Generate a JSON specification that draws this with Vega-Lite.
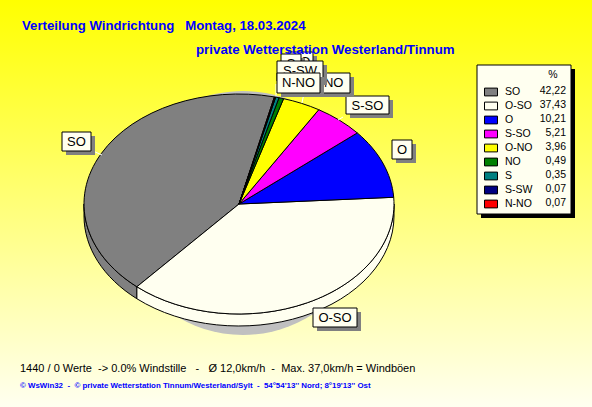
{"$schema":"https://vega.github.io/schema/vega-lite/v6.json","width":592,"height":407,"padding":0,"autosize":{"type":"fit","contains":"padding"},"background":"#ffffff",
"config":{"view":{"stroke":null},"axis":{"disable":true},"locale":{"number":{"decimal":",","thousands":".","grouping":[3],"currency":["","€"]}},"text":{"font":"Liberation Sans"},
"point":{"filled":true,"opacity":1,"size":4}},
"data":{"values":[{"dir":"SO","pct":42.22},{"dir":"O-SO","pct":37.43},{"dir":"O","pct":10.21},{"dir":"S-SO","pct":5.21},{"dir":"O-NO","pct":3.96},{"dir":"NO","pct":0.49},{"dir":"S","pct":0.35},{"dir":"S-SW","pct":0.07},{"dir":"N-NO","pct":0.07}]},
"resolve":{"scale":{"shape":"independent"},"legend":{"shape":"independent"}},
"encoding":{"x":{"datum":239,"scale":{"domain":[0,592],"range":[0,592],"nice":false,"zero":false}},"y":{"datum":204,"scale":{"domain":[0,407],"range":[0,407],"nice":false,"zero":false}}},
"layer":[
{"data":{"values":[{"part":"background"}]},"mark":{"type":"rect","fill":{"gradient":"linear","x1":0,"y1":0,"x2":0,"y2":1,"stops":[{"offset":0,"color":"#ffff00"},{"offset":1,"color":"#fffff0"}]}},"encoding":{"x":{"datum":0},"x2":{"datum":592},"y":{"datum":0},"y2":{"datum":407}}},
{"data":{"values":[{"part":"shadow"}]},"mark":{"type":"point","shape":"M-125,0A125,122 0 1 1 125,0A125,122 0 1 1 -125,0Z","fill":"#c0c0c0","stroke":null},"encoding":{"x":{"datum":243},"y":{"datum":213}}},
{"transform":[{"filter":"datum.dir=='SO'"}],"mark":{"type":"point","shape":"M-102.1,82.76L-102.1,94.76A155,110 0 0 1 -155,12L-155,0A155,110 0 0 0 -102.1,82.76Z","stroke":"#000000","strokeWidth":1},"encoding":{"fill":{"field":"dir","type":"nominal"}}},
{"transform":[{"filter":"datum.dir=='O-SO'"}],"mark":{"type":"point","shape":"M155,0L155,12A155,110 0 0 1 -102.1,94.76L-102.1,82.76A155,110 0 0 0 155,0Z","stroke":"#000000","strokeWidth":1},"encoding":{"fill":{"field":"dir","type":"nominal"}}},
{"mark":{"type":"point","stroke":"#000000","strokeWidth":1},"encoding":{
"fill":{"field":"dir","type":"nominal","sort":null,"scale":{"domain":["SO","O-SO","O","S-SO","O-NO","NO","S","S-SW","N-NO"],"range":["#808080","#fffff0","#0000ff","#ff00ff","#ffff00","#008000","#008080","#000080","#ff0000"]},
"legend":{"orient":"none","legendX":484,"legendY":85,"title":null,"symbolType":"M-1,-0.6L1,-0.6L1,0.6L-1,0.6Z","symbolSize":169,"symbolStrokeColor":"#000000","symbolStrokeWidth":1,"labelFont":"Liberation Sans","labelFontSize":10.5,"labelColor":"#000000","labelOffset":7,"clipHeight":14,"rowPadding":0,"padding":0,"offset":0}},
"shape":{"field":"dir","type":"nominal","legend":null,"scale":{"domain":["SO","O-SO","O","S-SO","O-NO","NO","S","S-SW","N-NO"],"range":[
"M0,0L-102.1,82.76A155,110 0 0 1 35.37,-107.1Z",
"M0,0L154.71,-6.73A155,110 0 0 1 -102.1,82.76Z",
"M0,0L118.28,-71.09A155,110 0 0 1 154.71,-6.73Z",
"M0,0L79.76,-94.31A155,110 0 0 1 118.28,-71.09Z",
"M0,0L44.59,-105.35A155,110 0 0 1 79.76,-94.31Z",
"M0,0L39.99,-106.27A155,110 0 0 1 44.59,-105.35Z",
"M0,0L36.69,-106.87A155,110 0 0 1 39.99,-106.27Z",
"M0,0L36.03,-106.99A155,110 0 0 1 36.69,-106.87Z",
"M0,0L35.37,-107.1A155,110 0 0 1 36.03,-106.99Z"]}}}},
{"data":{"values":[{"part":"leaders"}]},"mark":{"type":"point","filled":false,"stroke":"#ffffff","strokeWidth":1,"shape":"M-146,-53L-137,-49M104,-87L99,-84M65,-111L63,-101M37,-108L37,-120"}},
{"transform":[{"filter":"datum.dir=='SO'"}],"mark":{"type":"point","fill":"#808080","stroke":null,"xOffset":4,"yOffset":4,"shape":"M-177,-72H-148V-53H-177Z"}},
{"transform":[{"filter":"datum.dir=='SO'"}],"mark":{"type":"point","fill":"#fffff0","stroke":"#000000","strokeWidth":1,"shape":"M-177,-72H-148V-53H-177Z"}},
{"transform":[{"filter":"datum.dir=='SO'"}],"mark":{"type":"text","fontSize":13},"encoding":{"text":{"field":"dir"},"x":{"datum":76.5},"y":{"datum":142}}},
{"transform":[{"filter":"datum.dir=='O-SO'"}],"mark":{"type":"point","fill":"#808080","stroke":null,"xOffset":4,"yOffset":4,"shape":"M74,104H118V123H74Z"}},
{"transform":[{"filter":"datum.dir=='O-SO'"}],"mark":{"type":"point","fill":"#fffff0","stroke":"#000000","strokeWidth":1,"shape":"M74,104H118V123H74Z"}},
{"transform":[{"filter":"datum.dir=='O-SO'"}],"mark":{"type":"text","fontSize":13},"encoding":{"text":{"field":"dir"},"x":{"datum":335},"y":{"datum":318}}},
{"transform":[{"filter":"datum.dir=='O'"}],"mark":{"type":"point","fill":"#808080","stroke":null,"xOffset":4,"yOffset":4,"shape":"M153,-64H173V-45H153Z"}},
{"transform":[{"filter":"datum.dir=='O'"}],"mark":{"type":"point","fill":"#fffff0","stroke":"#000000","strokeWidth":1,"shape":"M153,-64H173V-45H153Z"}},
{"transform":[{"filter":"datum.dir=='O'"}],"mark":{"type":"text","fontSize":13},"encoding":{"text":{"field":"dir"},"x":{"datum":402},"y":{"datum":150}}},
{"transform":[{"filter":"datum.dir=='S-SO'"}],"mark":{"type":"point","fill":"#808080","stroke":null,"xOffset":4,"yOffset":4,"shape":"M107,-108H150V-90H107Z"}},
{"transform":[{"filter":"datum.dir=='S-SO'"}],"mark":{"type":"point","fill":"#fffff0","stroke":"#000000","strokeWidth":1,"shape":"M107,-108H150V-90H107Z"}},
{"transform":[{"filter":"datum.dir=='S-SO'"}],"mark":{"type":"text","fontSize":13},"encoding":{"text":{"field":"dir"},"x":{"datum":367.5},"y":{"datum":105.5}}},
{"transform":[{"filter":"datum.dir=='O-NO'"}],"mark":{"type":"point","fill":"#808080","stroke":null,"xOffset":4,"yOffset":4,"shape":"M64,-131H111V-111H64Z"}},
{"transform":[{"filter":"datum.dir=='O-NO'"}],"mark":{"type":"point","fill":"#fffff0","stroke":"#000000","strokeWidth":1,"shape":"M64,-131H111V-111H64Z"}},
{"transform":[{"filter":"datum.dir=='O-NO'"}],"mark":{"type":"text","fontSize":13},"encoding":{"text":{"field":"dir"},"x":{"datum":326.5},"y":{"datum":83}}},
{"transform":[{"filter":"datum.dir=='NO'"}],"mark":{"type":"point","fill":"#808080","stroke":null,"xOffset":4,"yOffset":4,"shape":"M49,-152H74V-132H49Z"}},
{"transform":[{"filter":"datum.dir=='NO'"}],"mark":{"type":"point","fill":"#fffff0","stroke":"#000000","strokeWidth":1,"shape":"M49,-152H74V-132H49Z"}},
{"transform":[{"filter":"datum.dir=='NO'"}],"mark":{"type":"text","fontSize":13},"encoding":{"text":{"field":"dir"},"x":{"datum":300.5},"y":{"datum":62}}},
{"transform":[{"filter":"datum.dir=='S'"}],"mark":{"type":"point","fill":"#808080","stroke":null,"xOffset":4,"yOffset":4,"shape":"M42,-150H62V-130H42Z"}},
{"transform":[{"filter":"datum.dir=='S'"}],"mark":{"type":"point","fill":"#fffff0","stroke":"#000000","strokeWidth":1,"shape":"M42,-150H62V-130H42Z"}},
{"transform":[{"filter":"datum.dir=='S'"}],"mark":{"type":"text","fontSize":13},"encoding":{"text":{"field":"dir"},"x":{"datum":291},"y":{"datum":64}}},
{"transform":[{"filter":"datum.dir=='S-SW'"}],"mark":{"type":"point","fill":"#808080","stroke":null,"xOffset":4,"yOffset":4,"shape":"M38,-143H84V-123H38Z"}},
{"transform":[{"filter":"datum.dir=='S-SW'"}],"mark":{"type":"point","fill":"#fffff0","stroke":"#000000","strokeWidth":1,"shape":"M38,-143H84V-123H38Z"}},
{"transform":[{"filter":"datum.dir=='S-SW'"}],"mark":{"type":"text","fontSize":13},"encoding":{"text":{"field":"dir"},"x":{"datum":300},"y":{"datum":71}}},
{"transform":[{"filter":"datum.dir=='N-NO'"}],"mark":{"type":"point","fill":"#808080","stroke":null,"xOffset":4,"yOffset":4,"shape":"M38,-131H81V-111H38Z"}},
{"transform":[{"filter":"datum.dir=='N-NO'"}],"mark":{"type":"point","fill":"#fffff0","stroke":"#000000","strokeWidth":1,"shape":"M38,-131H81V-111H38Z"}},
{"transform":[{"filter":"datum.dir=='N-NO'"}],"mark":{"type":"text","fontSize":13},"encoding":{"text":{"field":"dir"},"x":{"datum":298.5},"y":{"datum":83}}},
{"data":{"values":[{"part":"legendshadow"}]},"mark":{"type":"rect","fill":"#000000"},"encoding":{"x":{"datum":481},"x2":{"datum":575},"y":{"datum":69},"y2":{"datum":218}}},
{"data":{"values":[{"part":"legendbox"}]},"mark":{"type":"rect","fill":"#fffff0","stroke":"#000000","strokeWidth":1},"encoding":{"x":{"datum":477},"x2":{"datum":571},"y":{"datum":65},"y2":{"datum":214}}},
{"data":{"values":[{"t":"%"}]},"mark":{"type":"text","fontSize":10.5,"align":"center"},"encoding":{"text":{"field":"t"},"x":{"datum":553},"y":{"datum":75}}},
{"transform":[{"filter":"datum.dir=='SO'"}],"mark":{"type":"text","fontSize":10.5,"align":"right","color":"#000000"},"encoding":{"text":{"field":"pct","type":"quantitative","format":".2f"},"x":{"datum":566},"y":{"datum":91}}},
{"transform":[{"filter":"datum.dir=='O-SO'"}],"mark":{"type":"text","fontSize":10.5,"align":"right","color":"#000000"},"encoding":{"text":{"field":"pct","type":"quantitative","format":".2f"},"x":{"datum":566},"y":{"datum":105}}},
{"transform":[{"filter":"datum.dir=='O'"}],"mark":{"type":"text","fontSize":10.5,"align":"right","color":"#000000"},"encoding":{"text":{"field":"pct","type":"quantitative","format":".2f"},"x":{"datum":566},"y":{"datum":119}}},
{"transform":[{"filter":"datum.dir=='S-SO'"}],"mark":{"type":"text","fontSize":10.5,"align":"right","color":"#000000"},"encoding":{"text":{"field":"pct","type":"quantitative","format":".2f"},"x":{"datum":566},"y":{"datum":133}}},
{"transform":[{"filter":"datum.dir=='O-NO'"}],"mark":{"type":"text","fontSize":10.5,"align":"right","color":"#000000"},"encoding":{"text":{"field":"pct","type":"quantitative","format":".2f"},"x":{"datum":566},"y":{"datum":147}}},
{"transform":[{"filter":"datum.dir=='NO'"}],"mark":{"type":"text","fontSize":10.5,"align":"right","color":"#000000"},"encoding":{"text":{"field":"pct","type":"quantitative","format":".2f"},"x":{"datum":566},"y":{"datum":161}}},
{"transform":[{"filter":"datum.dir=='S'"}],"mark":{"type":"text","fontSize":10.5,"align":"right","color":"#000000"},"encoding":{"text":{"field":"pct","type":"quantitative","format":".2f"},"x":{"datum":566},"y":{"datum":175}}},
{"transform":[{"filter":"datum.dir=='S-SW'"}],"mark":{"type":"text","fontSize":10.5,"align":"right","color":"#000000"},"encoding":{"text":{"field":"pct","type":"quantitative","format":".2f"},"x":{"datum":566},"y":{"datum":189}}},
{"transform":[{"filter":"datum.dir=='N-NO'"}],"mark":{"type":"text","fontSize":10.5,"align":"right","color":"#000000"},"encoding":{"text":{"field":"pct","type":"quantitative","format":".2f"},"x":{"datum":566},"y":{"datum":203}}},
{"data":{"values":[{"t":"Verteilung Windrichtung\u00a0\u00a0\u00a0Montag, 18.03.2024"}]},"mark":{"type":"text","fontSize":13.2,"fontWeight":"bold","align":"left","color":"#0000ff"},"encoding":{"text":{"field":"t"},"x":{"datum":22},"y":{"datum":26}}},
{"data":{"values":[{"t":"private Wetterstation Westerland/Tinnum"}]},"mark":{"type":"text","fontSize":13.3,"fontWeight":"bold","align":"left","color":"#0000ff"},"encoding":{"text":{"field":"t"},"x":{"datum":196},"y":{"datum":49.5}}},
{"data":{"values":[{"t":"1440 / 0 Werte\u00a0\u00a0-> 0.0% Windstille\u00a0\u00a0\u00a0-\u00a0\u00a0\u00a0Ø 12,0km/h\u00a0\u00a0-\u00a0\u00a0Max. 37,0km/h = Windböen"}]},"mark":{"type":"text","fontSize":11,"align":"left","color":"#000000"},"encoding":{"text":{"field":"t"},"x":{"datum":20},"y":{"datum":369}}},
{"data":{"values":[{"t":"© WsWin32\u00a0\u00a0-\u00a0\u00a0© private Wetterstation Tinnum/Westerland/Sylt\u00a0\u00a0-\u00a0\u00a054°54'13'' Nord; 8°19'13'' Ost"}]},"mark":{"type":"text","fontSize":7.9,"fontWeight":"bold","align":"left","color":"#0000ff"},"encoding":{"text":{"field":"t"},"x":{"datum":20},"y":{"datum":386}}}
]}
